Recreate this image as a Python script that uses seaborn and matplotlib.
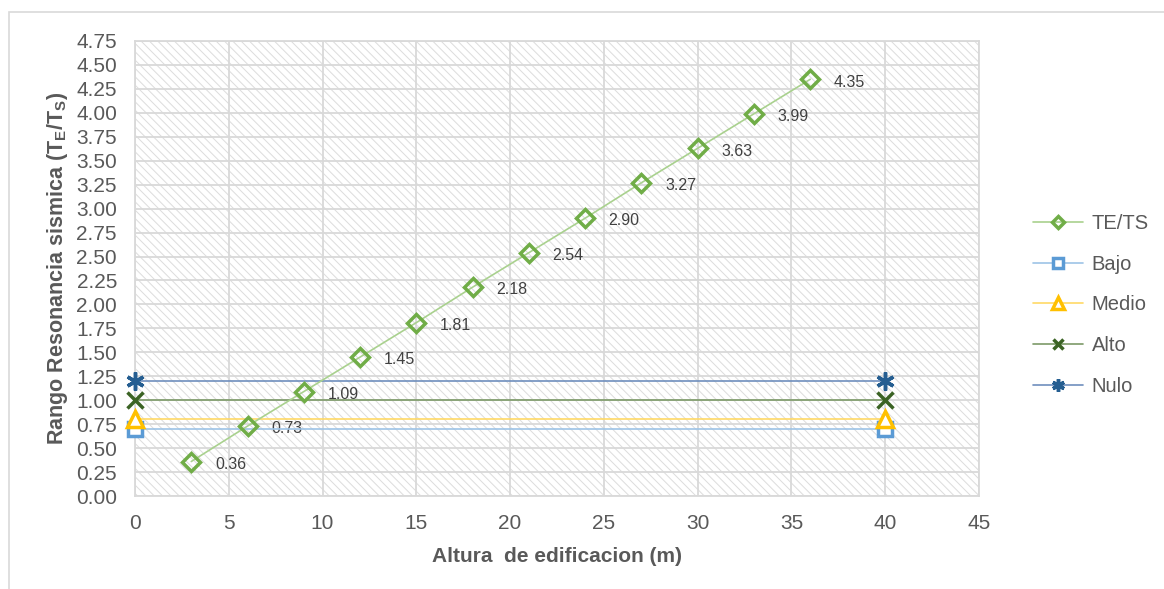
import matplotlib
matplotlib.use("Agg")
import matplotlib.pyplot as plt
import seaborn as sns
import pandas as pd
import numpy as np
from matplotlib.patches import Rectangle

# ---- data ----
altura = [3, 6, 9, 12, 15, 18, 21, 24, 27, 30, 33, 36]
te_ts = [0.36, 0.73, 1.09, 1.45, 1.81, 2.18, 2.54, 2.90, 3.27, 3.63, 3.99, 4.35]
x_lim_lines = [0, 40]
bajo = [0.70, 0.70]
medio = [0.80, 0.80]
alto = [1.00, 1.00]
nulo = [1.20, 1.20]
x_ticks = [0, 5, 10, 15, 20, 25, 30, 35, 40, 45]
y_ticks = [0.00, 0.25, 0.50, 0.75, 1.00, 1.25, 1.50, 1.75, 2.00, 2.25, 2.50,
           2.75, 3.00, 3.25, 3.50, 3.75, 4.00, 4.25, 4.50, 4.75]

sns.set_style("white")
plt.rcParams['font.family'] = ['Liberation Sans', 'DejaVu Sans']
plt.rcParams['mathtext.fontset'] = 'custom'
plt.rcParams['mathtext.rm'] = 'Liberation Sans'
plt.rcParams['mathtext.bf'] = 'Liberation Sans:bold'
plt.rcParams['hatch.linewidth'] = 0.7
plt.rcParams['hatch.color'] = '#dcdcdc'

fig = plt.figure(figsize=(11.64, 5.89), dpi=100)
ax = fig.add_axes([135/1164, 1 - 496/589, (979-135)/1164, (496-41)/589])

# frame around chart area
fig.patches.append(Rectangle((9/1164, -0.1), 1.2, (589-12)/589 + 0.1,
                             transform=fig.transFigure, fill=False,
                             edgecolor='#d9d9d9', lw=1.2, zorder=0))

# hatched background
ax.add_patch(Rectangle((0, 0), 1, 1, transform=ax.transAxes, fill=False,
                       hatch='\\\\\\\\', edgecolor='#dcdcdc', lw=0, zorder=0))

df_te = pd.DataFrame({'x': altura, 'y': te_ts})
sns.lineplot(data=df_te, x='x', y='y', ax=ax, color='#a9d18e', lw=1.2,
             marker='D', markersize=9, markerfacecolor='none',
             markeredgecolor='#70ad47', markeredgewidth=2.5, zorder=5,
             label='TE/TS', clip_on=False)

series = [
    ('Bajo', bajo, '#9dc3e6', 's', '#5b9bd5', 10.5),
    ('Medio', medio, '#ffd966', '^', '#ffc000', 11.5),
    ('Alto', alto, '#7d9a68', 'x', '#3b6324', 11),
    ('Nulo', nulo, '#6f8fbd', (6, 2, 0), '#255e91', 13),
]
for name, vals, lc, mk, mc, ms in series:
    d = pd.DataFrame({'x': x_lim_lines, 'y': vals})
    sns.lineplot(data=d, x='x', y='y', ax=ax, color=lc, lw=1.2,
                 marker=mk, markersize=ms,
                 markerfacecolor='white' if mk in ('s', '^') else mc,
                 markeredgecolor=mc, markeredgewidth=2.5, zorder=4,
                 label=name, clip_on=False)

for xv, yv in zip(altura, te_ts):
    ax.annotate(f"{yv:.2f}", (xv, yv), xytext=(17, -2), textcoords='offset points',
                fontsize=11.5, color='#404040', va='center', ha='left')

ax.set_xlim(0, 45)
ax.set_ylim(0, 4.75)
ax.set_xticks(x_ticks)
ax.set_yticks(y_ticks)
ax.set_yticklabels([f"{v:.2f}" for v in y_ticks])
ax.tick_params(axis='both', labelsize=15, colors='#595959', length=0)
ax.tick_params(axis='y', pad=13)
ax.tick_params(axis='x', pad=13)
ax.grid(True, color='#d9d9d9', lw=1.3, zorder=1)
ax.set_axisbelow(True)
for s in ax.spines.values():
    s.set_color('#d9d9d9')
    s.set_linewidth(1.3)

ax.set_xlabel('Altura  de edificacion (m)', fontsize=15, fontweight='bold',
              color='#595959', labelpad=10)
ax.set_ylabel(r'Rango Resonancia sismica (T$_\mathbf{E}$/T$_\mathbf{S}$)',
              fontsize=15.5, fontweight='bold', color='#595959', labelpad=4)

leg = ax.legend(loc='center left', bbox_to_anchor=(1023/1164, 1 - 305/589),
                bbox_transform=fig.transFigure, frameon=False, fontsize=14.5,
                handlelength=2.5, labelspacing=1.07, handletextpad=0.4,
                borderpad=0, markerscale=0.7)
for t in leg.get_texts():
    t.set_color('#595959')

fig.savefig('out.png', dpi=100)
